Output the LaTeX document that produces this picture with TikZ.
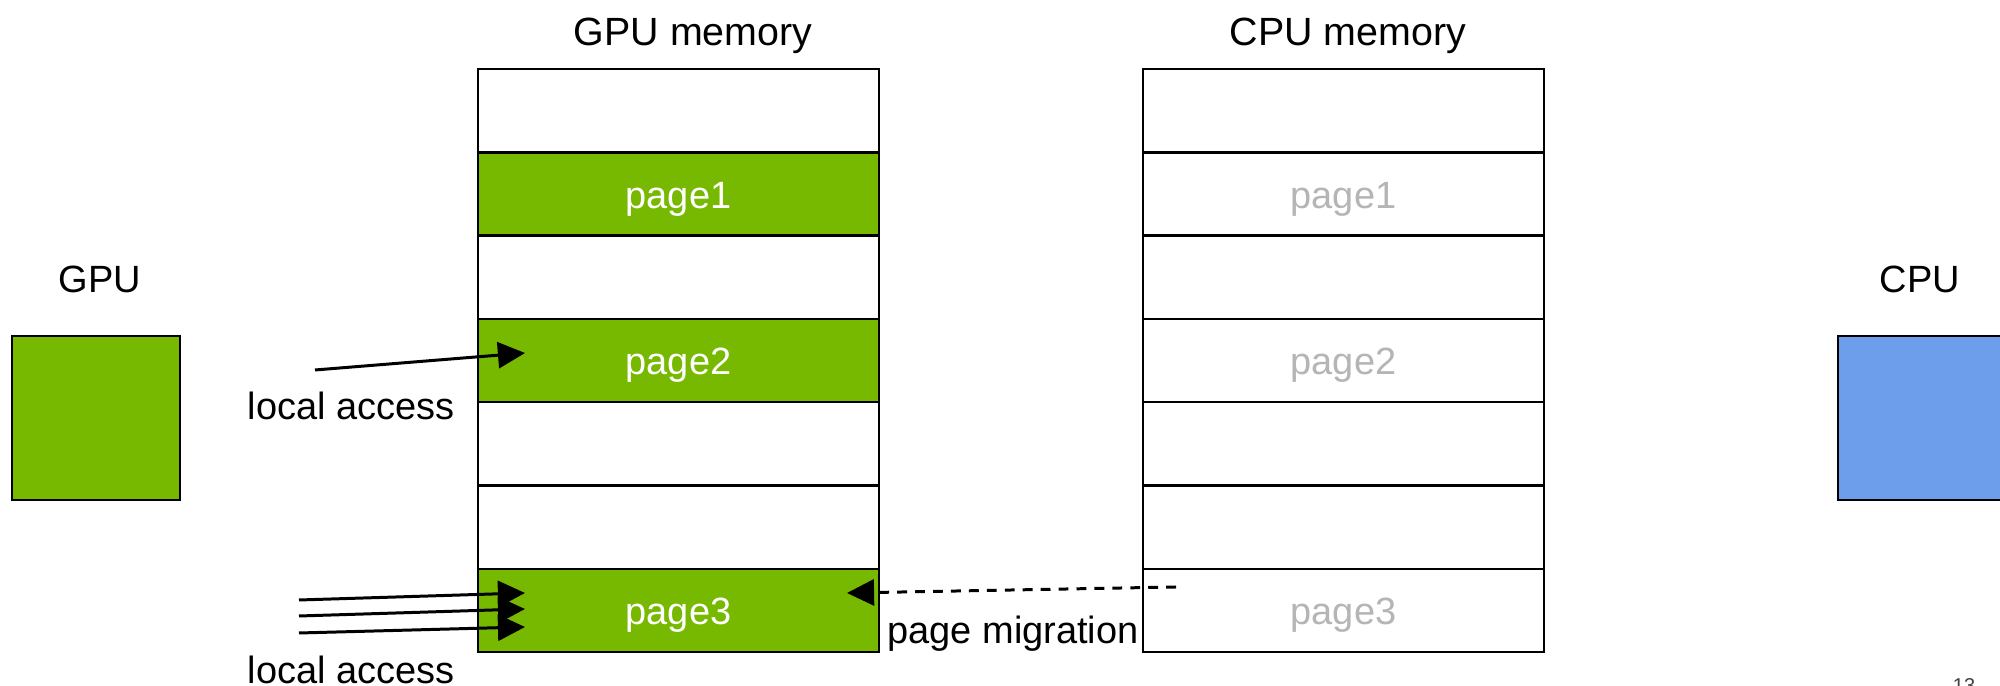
\documentclass[tikz,border=0pt]{standalone}
\usepackage{fontspec}
\setmainfont{Liberation Sans}
\usetikzlibrary{arrows.meta}
\definecolor{nvgreen}{HTML}{76B900}
\definecolor{cpublue}{HTML}{6D9EEB}
\definecolor{ghost}{HTML}{B5B5B5}
\tikzset{
  lbl/.style={inner sep=0pt, font=\fontsize{10.8}{13}\selectfont, text=black},
  cell/.style={draw=black, line width=0.7pt, fill=white, minimum width=4.01cm, minimum height=0.833cm, inner sep=0pt, font=\fontsize{10.8}{13}\selectfont, text height=1.02em, text depth=0.21em},
  gpage/.style={cell, fill=nvgreen, text=white},
  cpage/.style={cell, text=ghost},
  chip/.style={draw=black, line width=0.8pt, minimum width=1.68cm, minimum height=1.64cm, inner sep=0pt},
  acc/.style={line width=0.85pt, -{Triangle[length=7.7pt, width=7.4pt]}},
}
\begin{document}
\begin{tikzpicture}[x=0.01cm, y=-0.01cm]
\useasboundingbox (0,0) rectangle (2000,686);
\clip (0,0) rectangle (2000,686);
\fill[white] (0,0) rectangle (2000,686);

% titles
\node[lbl, font=\fontsize{11.2}{13}\selectfont] (gmt) at (693,36) {GPU memory};
\node[lbl, font=\fontsize{11.2}{13}\selectfont] (cmt) at (1348,36) {CPU memory};
\node[lbl] (gput) at (100,279) {GPU};
\node[lbl] (cput) at (1920,279) {CPU};

% chips
\node[chip, fill=nvgreen] (gpu) at (96,418) {};
\node[chip, fill=cpublue] (cpu) at (1922,418) {};

% GPU memory
\node[cell]  (g1) at (678.5,110.7) {};
\node[gpage] (g2) at (678.5,194.0) {page1};
\node[cell]  (g3) at (678.5,277.3) {};
\node[gpage] (g4) at (678.5,360.6) {page2};
\node[cell]  (g5) at (678.5,443.9) {};
\node[cell]  (g6) at (678.5,527.2) {};
\node[gpage] (g7) at (678.5,610.5) {page3};

% CPU memory
\node[cell]  (c1) at (1343.5,110.7) {};
\node[cpage] (c2) at (1343.5,194.0) {page1};
\node[cell]  (c3) at (1343.5,277.3) {};
\node[cpage] (c4) at (1343.5,360.6) {page2};
\node[cell]  (c5) at (1343.5,443.9) {};
\node[cell]  (c6) at (1343.5,527.2) {};
\node[cpage] (c7) at (1343.5,610.5) {page3};

% labels
\node[lbl] (la1) at (351,406) {local access};
\node[lbl] (la2) at (351,670) {local access};
\node[lbl] (pm) at (1013,634) {page migration};
\node[lbl, font=\fontsize{5.7}{7}\selectfont, text=black!75] (pg) at (1964,686) {13};

% arrows
\coordinate (a1s) at (315,370);
\coordinate (a1e) at (525,353);
\draw[acc] (a1s) -- (a1e);

\coordinate (b1s) at (299,600);
\coordinate (b1e) at (525,593);
\coordinate (b2s) at (299,616);
\coordinate (b2e) at (525,609);
\coordinate (b3s) at (299,633);
\coordinate (b3e) at (525,627);
\draw[acc] (b1s) -- (b1e);
\draw[acc] (b2s) -- (b2e);
\draw[acc] (b3s) -- (b3e);

\coordinate (ms) at (1176,587);
\coordinate (me) at (847,593);
\draw[acc, dash pattern=on 2.8pt off 2.3pt] (ms) -- (me);
\end{tikzpicture}
\end{document}
